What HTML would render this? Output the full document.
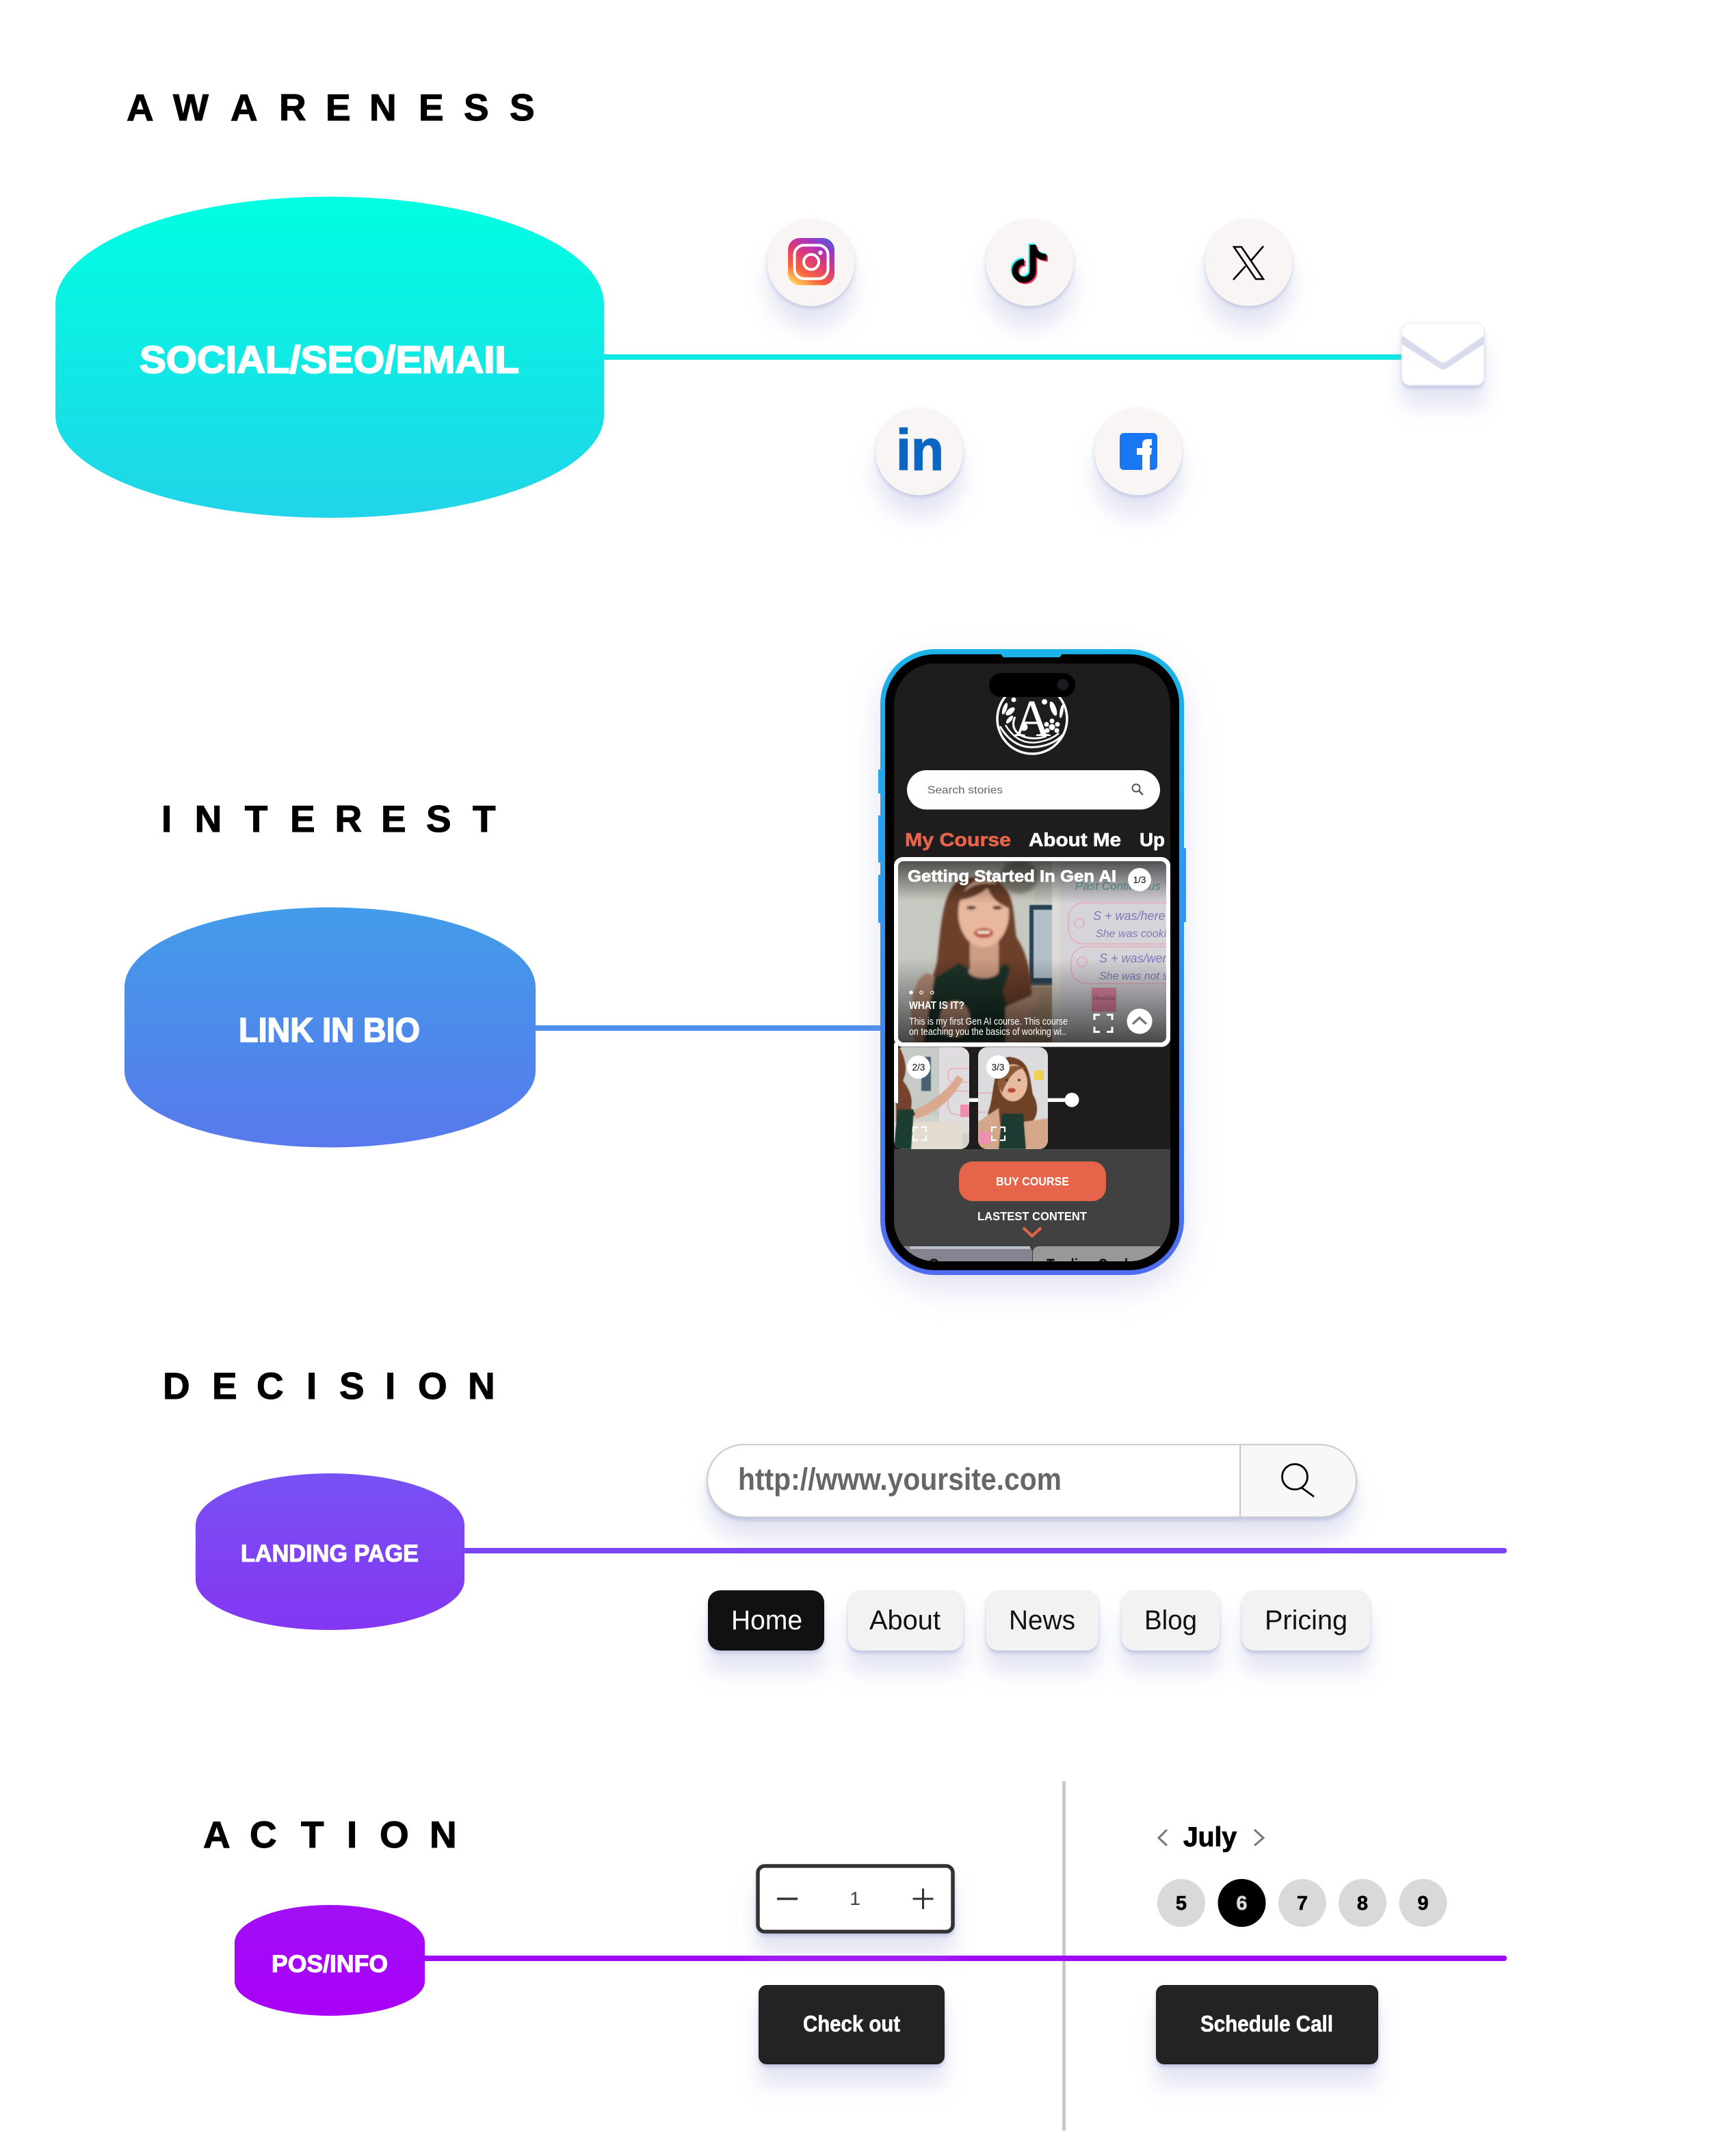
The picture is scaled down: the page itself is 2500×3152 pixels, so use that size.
<!DOCTYPE html>
<html><head><meta charset="utf-8"><title>Funnel</title>
<style>html,body{margin:0;padding:0;background:#fff}svg{display:block}
text{font-family:"Liberation Sans",sans-serif}</style></head>
<body>
<svg xmlns="http://www.w3.org/2000/svg" width="2500" height="3152" viewBox="0 0 2500 3152">
<defs>
<linearGradient id="g1" x1="0" y1="0" x2="0" y2="1"><stop offset="0" stop-color="#00ffe1"/><stop offset="1" stop-color="#21d4e9"/></linearGradient>
<linearGradient id="g2" x1="0" y1="0" x2="0" y2="1"><stop offset="0" stop-color="#439cea"/><stop offset="1" stop-color="#5879ec"/></linearGradient>
<linearGradient id="g3" x1="0" y1="0" x2="0" y2="1"><stop offset="0" stop-color="#7851f4"/><stop offset="1" stop-color="#8436f2"/></linearGradient>
<linearGradient id="g4" x1="0" y1="0" x2="0" y2="1"><stop offset="0" stop-color="#a10ff6"/><stop offset="1" stop-color="#a900f9"/></linearGradient>
<linearGradient id="frame" x1="0" y1="0" x2="0" y2="1"><stop offset="0" stop-color="#1db3e8"/><stop offset=".5" stop-color="#3391ee"/><stop offset="1" stop-color="#4f6cf0"/></linearGradient>
<linearGradient id="ig" x1="0.2" y1="1" x2="0.8" y2="0"><stop offset="0" stop-color="#fed45a"/><stop offset=".25" stop-color="#f8653d"/><stop offset=".55" stop-color="#dd3a78"/><stop offset=".8" stop-color="#a832c0"/><stop offset="1" stop-color="#5b58d6"/></linearGradient>
<linearGradient id="topov" x1="0" y1="0" x2="0" y2="1"><stop offset="0" stop-color="#000" stop-opacity=".62"/><stop offset="1" stop-color="#000" stop-opacity="0"/></linearGradient>
<linearGradient id="botov" x1="0" y1="0" x2="0" y2="1"><stop offset="0" stop-color="#000" stop-opacity="0"/><stop offset="1" stop-color="#000" stop-opacity=".66"/></linearGradient>
<filter id="sh" x="-40%" y="-30%" width="180%" height="220%" color-interpolation-filters="sRGB">
<feDropShadow dx="0" dy="3" stdDeviation="3" flood-color="#8f96c8" flood-opacity=".4"/>
<feDropShadow dx="0" dy="32" stdDeviation="15" flood-color="#a6acda" flood-opacity=".3"/>
</filter>
<filter id="shw" x="-20%" y="-30%" width="140%" height="260%" color-interpolation-filters="sRGB">
<feDropShadow dx="0" dy="4" stdDeviation="3" flood-color="#8f96c8" flood-opacity=".42"/>
<feDropShadow dx="0" dy="30" stdDeviation="14" flood-color="#a6acda" flood-opacity=".3"/>
</filter>
<filter id="shp" x="-20%" y="-10%" width="140%" height="125%" color-interpolation-filters="sRGB">
<feDropShadow dx="0" dy="20" stdDeviation="22" flood-color="#a0a6d8" flood-opacity=".32"/>
</filter>
<filter id="b05"><feGaussianBlur stdDeviation=".6"/></filter>
<filter id="b1"><feGaussianBlur stdDeviation="1.6"/></filter>
<filter id="b2"><feGaussianBlur stdDeviation="3"/></filter>
<clipPath id="screen"><rect x="1307" y="970" width="404" height="874" rx="60"/></clipPath>
<clipPath id="photo"><rect x="1313" y="1259" width="392" height="265" rx="8"/></clipPath>
<clipPath id="t2"><rect x="1307" y="1531" width="110" height="149" rx="13"/></clipPath>
<clipPath id="t3"><rect x="1430" y="1531" width="102" height="149" rx="13"/></clipPath>
<clipPath id="mailc"><rect x="2049" y="472" width="121" height="91" rx="12"/></clipPath>
</defs>

<rect width="2500" height="3152" fill="#fff"/>

<!-- Section titles -->
<g font-weight="700" font-size="55" fill="#000" stroke="#000" stroke-width="1">
<text x="185 253 337 408 476 540 612 678 745" y="176">AWARENESS</text>
<text x="236 284.6 357.7 424 489.5 557 623 691" y="1216">INTEREST</text>
<text x="238 310 375 448 496 563 611 684" y="2045">DECISION</text>
<text x="297 365 440 507 555 628" y="2701">ACTION</text>
</g>

<!-- Connector lines -->
<rect x="880" y="518" width="1170" height="8" fill="#0fe8e4"/>
<rect x="780" y="1499" width="520" height="8" fill="#4d8deb"/>
<rect x="676" y="2263" width="1527" height="8" rx="4" fill="#7c44f2"/>
<rect x="1553" y="2604" width="5" height="511" fill="#c9c9c9"/>
<rect x="618" y="2859" width="1585" height="8" rx="4" fill="#a10af7"/>

<!-- Blobs -->
<path d="M81 445 A401 157.500 0 0 1 883 445 V607 A401 150 0 0 1 81 607 Z" fill="url(#g1)"/>
<text x="204" y="545" font-size="56" font-weight="700" fill="#fff" stroke="#fff" stroke-width="2" textLength="555" lengthAdjust="spacingAndGlyphs">SOCIAL/SEO/EMAIL</text>
<path d="M182 1443 A300.500 116.500 0 0 1 783 1443 V1566 A300.500 111.500 0 0 1 182 1566 Z" fill="url(#g2)"/>
<text x="349" y="1523" font-size="50" font-weight="700" fill="#fff" stroke="#fff" stroke-width="1.600" textLength="265" lengthAdjust="spacingAndGlyphs">LINK IN BIO</text>
<path d="M286 2230 A196.500 76 0 0 1 679 2230 V2310 A196.500 73 0 0 1 286 2310 Z" fill="url(#g3)"/>
<text x="352" y="2283" font-size="35" font-weight="700" fill="#fff" stroke="#fff" stroke-width="1.100" textLength="260" lengthAdjust="spacingAndGlyphs">LANDING PAGE</text>
<path d="M343 2840 A139 55 0 0 1 621 2840 V2897 A139 50 0 0 1 343 2897 Z" fill="url(#g4)"/>
<text x="397" y="2883" font-size="35" font-weight="700" fill="#fff" stroke="#fff" stroke-width="1.100" textLength="170" lengthAdjust="spacingAndGlyphs">POS/INFO</text>

<!-- Social circles -->
<circle cx="1185.500" cy="383.500" r="64" fill="#f8f5f4" filter="url(#sh)"/>
<circle cx="1505.500" cy="383.500" r="64" fill="#f8f5f4" filter="url(#sh)"/>
<circle cx="1825.500" cy="383.500" r="64" fill="#f8f5f4" filter="url(#sh)"/>
<circle cx="1344" cy="660" r="64" fill="#f8f5f4" filter="url(#sh)"/>
<circle cx="1664" cy="660" r="64" fill="#f8f5f4" filter="url(#sh)"/>

<!-- Instagram -->
<rect x="1152" y="348" width="68" height="69" rx="17" fill="url(#ig)"/>
<rect x="1161.500" y="358.500" width="49" height="49" rx="14" fill="none" stroke="#fff" stroke-width="4"/>
<circle cx="1186" cy="383" r="11" fill="none" stroke="#fff" stroke-width="4"/>
<circle cx="1199.500" cy="369.500" r="3.200" fill="#fff"/>
<!-- TikTok -->
<g fill="none" stroke-width="9">
<g stroke="#25f4ee" transform="translate(-2 -2)"><path d="M1510 358 V396 A13 13 0 1 1 1497 383"/><path d="M1510 358 C1511 369 1519 376 1530 376"/></g>
<g stroke="#fe2c55" transform="translate(2 2)"><path d="M1510 358 V396 A13 13 0 1 1 1497 383"/><path d="M1510 358 C1511 369 1519 376 1530 376"/></g>
<g stroke="#000"><path d="M1510 358 V396 A13 13 0 1 1 1497 383"/><path d="M1510 358 C1511 369 1519 376 1530 376"/></g>
</g>
<!-- X -->
<path d="M1804 361 H1815 L1847 408 H1836 Z" fill="none" stroke="#000" stroke-width="2.600"/>
<path d="M1847 360 L1829 381 M1821 389 L1803 409" fill="none" stroke="#000" stroke-width="2.600"/>
<!-- LinkedIn -->
<text x="1310" y="687" font-size="84" font-weight="700" fill="#0a66c2" stroke="#0a66c2" stroke-width="1.500" textLength="70" lengthAdjust="spacingAndGlyphs">in</text>
<!-- Facebook -->
<rect x="1637" y="633" width="55" height="54" rx="6" fill="#1877f2"/>
<path d="M1670 687 V665 H1662 V655 H1670 V650 Q1670 642 1678 642 H1684 V651 H1681 V655 H1684 L1683 665 H1681 V687Z" fill="#fff"/>

<!-- Mail -->
<g filter="url(#shw)"><rect x="2049" y="472" width="121" height="91" rx="12" fill="#fff"/></g>
<rect x="2049.500" y="472" width="120" height="91" rx="12" fill="none" stroke="#eff0f6" stroke-width="1.500"/>
<g clip-path="url(#mailc)">
<path d="M2049 490 L2106 529 Q2110 532 2114 529 L2170 490 V503 L2114 539 Q2110 542 2106 539 L2049 503 Z" fill="#d8dbec" filter="url(#b05)"/>
</g>

<!-- Phone -->
<g filter="url(#shp)"><rect x="1287" y="949" width="444" height="915" rx="80" fill="url(#frame)"/></g>
<rect x="1284" y="1125" width="4" height="35" fill="#22a9e9"/>
<rect x="1284" y="1192" width="4" height="69" fill="#289fec"/>
<rect x="1284" y="1279" width="4" height="70" fill="#2d97ed"/>
<rect x="1730" y="1240" width="4" height="108" fill="#2c98ed"/>
<rect x="1294" y="956.500" width="430" height="900.500" rx="73" fill="#000"/>
<path d="M1463 956 H1553 L1549 961 H1467 Z" fill="#1db3e8"/>

<g clip-path="url(#screen)">
<rect x="1307" y="970" width="404" height="710" fill="#1e1c1d"/>
<rect x="1307" y="1680" width="404" height="164" fill="#414141"/>

<!-- Logo -->
<circle cx="1509" cy="1051" r="51" fill="none" stroke="#fff" stroke-width="3.500"/>
<path d="M1462 1062 Q1484 1099 1522 1091 Q1542 1087 1554 1074" fill="none" stroke="#fff" stroke-width="3"/>
<path d="M1470 1060 Q1488 1090 1518 1085 Q1536 1082 1548 1072" fill="none" stroke="#fff" stroke-width="2.500"/>
<path d="M1484 1048 Q1476 1066 1494 1076 Q1512 1083 1530 1076" fill="none" stroke="#fff" stroke-width="3"/>
<text x="1509" y="1076" font-size="76" text-anchor="middle" fill="#fff" style="font-family:'Liberation Serif',serif">A</text>
<circle cx="1497" cy="1063" r="5.500" fill="#fff"/>
<g fill="#fff"><circle cx="1538" cy="1063" r="4.500"/><circle cx="1538" cy="1054" r="3.500"/><circle cx="1546" cy="1059" r="3.500"/><circle cx="1545" cy="1068" r="3.500"/><circle cx="1531" cy="1068" r="3.500"/><circle cx="1530" cy="1059" r="3.500"/>
<circle cx="1527" cy="1026" r="4"/><circle cx="1482" cy="1023" r="3.500"/>
<ellipse cx="1540" cy="1036" rx="4" ry="11" transform="rotate(-20 1540 1036)"/>
<ellipse cx="1552" cy="1040" rx="2.500" ry="10" transform="rotate(10 1552 1040)"/>
<ellipse cx="1477" cy="1040" rx="4" ry="8" transform="rotate(50 1477 1040)"/>
<ellipse cx="1469" cy="1036" rx="3" ry="9" transform="rotate(20 1469 1036)"/>
<ellipse cx="1476" cy="1052" rx="3" ry="7" transform="rotate(40 1476 1052)"/></g>

<!-- Search -->
<rect x="1326" y="1126" width="370" height="57.500" rx="28.700" fill="#fff"/>
<text x="1356" y="1160" font-size="16" fill="#666" textLength="110" lengthAdjust="spacingAndGlyphs">Search stories</text>
<circle cx="1661" cy="1152" r="5.500" fill="none" stroke="#555" stroke-width="2"/>
<path d="M1665 1156 L1671 1162" stroke="#555" stroke-width="2.400"/>

<!-- Tabs -->
<g font-size="28" font-weight="700" stroke-width=".6">
<text x="1323" y="1237" fill="#e5644a" stroke="#e5644a" textLength="155" lengthAdjust="spacingAndGlyphs">My Course</text>
<text x="1504" y="1237" fill="#fff" stroke="#fff" textLength="135" lengthAdjust="spacingAndGlyphs">About Me</text>
<text x="1666" y="1237" fill="#fff" stroke="#fff" textLength="37" lengthAdjust="spacingAndGlyphs">Up</text>
</g>

<!-- Main card -->
<rect x="1310" y="1256" width="398" height="271.500" rx="10" fill="#fff" stroke="#fff" stroke-width="6"/>
<g clip-path="url(#photo)">
<rect x="1313" y="1259" width="240" height="265" fill="#c6c8c2"/>
<rect x="1313" y="1259" width="200" height="60" fill="#cfcfc6"/>
<ellipse cx="1490" cy="1282" rx="28" ry="24" fill="#8c8a80" filter="url(#b2)"/>
<rect x="1505" y="1323" width="36" height="118" rx="2" fill="#2c4254" filter="url(#b05)"/>
<rect x="1511" y="1330" width="30" height="100" fill="#b3bfc9" filter="url(#b05)"/>
<rect x="1490" y="1440" width="60" height="90" fill="#a78c72" filter="url(#b2)"/>
<rect x="1538" y="1259" width="13" height="265" fill="#dedcd8" filter="url(#b05)"/>
<rect x="1550" y="1259" width="155" height="265" fill="#d6d4d9"/>
<g fill="none" stroke="#e9a0b4" stroke-width="1.300">
<rect x="1562" y="1320" width="190" height="60" rx="22"/>
<rect x="1566" y="1384" width="190" height="54" rx="22"/>
<circle cx="1578" cy="1350" r="7"/><circle cx="1582" cy="1406" r="7"/>
</g>
<g fill="#7e7ab8" style="font-family:'Liberation Serif',serif" font-style="italic">
<text x="1598" y="1345" font-size="18">S + was/here + V</text>
<text x="1602" y="1370" font-size="16">She was cooking</text>
<text x="1607" y="1407" font-size="18">S + was/were + n</text>
<text x="1607" y="1432" font-size="16">She was not sleeping</text>
<text x="1572" y="1301" font-size="17" fill="#63a9a8">Past Continuous Tense</text>
</g>
<rect x="1596" y="1444" width="36" height="35" fill="#e88aa8"/>
<text x="1598" y="1462" font-size="9" fill="#7a5a70" style="font-family:'Liberation Serif',serif" font-style="italic">Deadline</text>
<g filter="url(#b1)">
<path d="M1412 1283 C1376 1290 1376 1360 1370 1405 C1364 1440 1345 1452 1335 1480 L1505 1485 C1512 1445 1506 1400 1486 1370 C1481 1340 1486 1298 1450 1283 Z" fill="#6d3f2b"/>
<ellipse cx="1356" cy="1485" rx="24" ry="62" fill="#b98f77"/>
<path d="M1366 1430 L1402 1408 Q1440 1432 1470 1408 L1498 1440 L1500 1524 L1350 1524 Z" fill="#1b352c"/>
<rect x="1418" y="1375" width="42" height="44" fill="#cf9d84"/>
<ellipse cx="1438" cy="1420" rx="22" ry="10" fill="#cf9d84"/>
<ellipse cx="1438" cy="1335" rx="37" ry="50" fill="#e8b79c"/>
<path d="M1400 1316 Q1418 1285 1460 1293 Q1478 1305 1476 1328 Q1452 1320 1444 1298 Q1425 1314 1400 1316Z" fill="#6d3f2b"/>
<ellipse cx="1420" cy="1327" rx="7" ry="2.600" fill="#4a2e25"/><ellipse cx="1458" cy="1327" rx="7" ry="2.600" fill="#4a2e25"/>
<ellipse cx="1438" cy="1364" rx="14" ry="7" fill="#b8473a"/><rect x="1429" y="1361" width="18" height="4" fill="#f1ead9"/>
<path d="M1482 1400 C1512 1420 1507 1475 1480 1495 L1466 1450 Z" fill="#6d3f2b"/>
<ellipse cx="1396" cy="1490" rx="22" ry="27" fill="#b98f77"/>
<path d="M1470 1472 L1520 1450 L1520 1462 L1500 1490 L1500 1524 L1470 1524Z" fill="#b98f77"/>
</g>
<rect x="1313" y="1259" width="392" height="62" fill="url(#topov)"/>
<rect x="1313" y="1400" width="392" height="124" fill="url(#botov)"/>
</g>
<text x="1327" y="1289" font-size="24" font-weight="700" fill="#fff" stroke="#fff" stroke-width=".7" textLength="305" lengthAdjust="spacingAndGlyphs">Getting Started In Gen AI</text>
<circle cx="1666" cy="1286" r="17" fill="#fff"/>
<text x="1666" y="1291" font-size="13.500" fill="#000" text-anchor="middle">1/3</text>
<circle cx="1332" cy="1451" r="2.800" fill="#fff"/>
<circle cx="1347" cy="1451" r="2.200" fill="none" stroke="#fff" stroke-width="1.200"/>
<circle cx="1363" cy="1451" r="2.200" fill="none" stroke="#fff" stroke-width="1.200"/>
<text x="1329" y="1475" font-size="16" font-weight="700" fill="#fff" textLength="81" lengthAdjust="spacingAndGlyphs">WHAT IS IT?</text>
<text x="1329" y="1498" font-size="15" fill="#fff" textLength="232" lengthAdjust="spacingAndGlyphs">This is my first Gen AI course. This course</text>
<text x="1329" y="1513" font-size="15" fill="#fff" textLength="230" lengthAdjust="spacingAndGlyphs">on teaching you the basics of working wi..</text>
<path d="M1600 1491 V1483.500 H1608 M1618 1483.500 H1626 V1491 M1626 1501 V1508.500 H1618 M1608 1508.500 H1600 V1501" fill="none" stroke="#fff" stroke-width="3"/>
<circle cx="1666" cy="1493" r="18.500" fill="#fff"/>
<path d="M1656 1497 L1666 1488 L1676 1497" fill="none" stroke="#777" stroke-width="3.500"/>

<!-- Slider line -->
<rect x="1400" y="1605.500" width="160" height="5.500" fill="#fff"/>
<circle cx="1567" cy="1608" r="10.500" fill="#fff"/>

<!-- Thumb 2 -->
<g clip-path="url(#t2)">
<rect x="1307" y="1531" width="110" height="149" fill="#cfd2cc"/>
<rect x="1315" y="1531" width="60" height="100" fill="#c7cbc7"/>
<rect x="1373" y="1531" width="44" height="125" fill="#dedcdf"/>
<rect x="1347" y="1545" width="14" height="50" fill="#4a6070" filter="url(#b05)"/>
<rect x="1307" y="1640" width="100" height="40" fill="#e3dccf" filter="url(#b05)"/>
<g filter="url(#b05)">
<path d="M1315 1531 Q1330 1560 1320 1580 Q1336 1600 1332 1620 L1340 1630 L1310 1640 V1531Z" fill="#74422d"/>
<path d="M1312 1622 L1336 1622 L1332 1680 L1307 1680Z" fill="#1f3c30"/>
<path d="M1338 1622 Q1375 1607 1400 1572 L1408 1578 Q1385 1622 1338 1636Z" fill="#d9a88d"/>
</g>
<g fill="none" stroke="#e9a0b4" stroke-width="1.200"><rect x="1386" y="1595" width="50" height="35" rx="14"/><rect x="1386" y="1562" width="50" height="20" rx="8"/></g>
<rect x="1404" y="1615" width="13" height="18" fill="#ee8fb0"/>
</g>
<circle cx="1343" cy="1560" r="17" fill="#fff"/>
<text x="1343" y="1565" font-size="13.500" fill="#000" text-anchor="middle">2/3</text>
<path d="M1335 1655 V1648 H1342 M1347 1648 H1354 V1655 M1354 1660 V1667 H1347 M1342 1667 H1335 V1660" fill="none" stroke="#fff" stroke-width="2.200"/>
<path d="M1307 1525 H1313 V1613 Q1307 1613 1307 1605 Z" fill="#fff"/>

<!-- Thumb 3 -->
<g clip-path="url(#t3)">
<rect x="1430" y="1531" width="102" height="149" fill="#dcdcdf"/>
<g fill="none" stroke="#e9a0b4" stroke-width="1.200"><rect x="1425" y="1598" width="30" height="28" rx="8"/></g>
<rect x="1512" y="1565" width="14" height="14" fill="#f2d04f"/>
<g filter="url(#b05)">
<path d="M1475 1545 C1450 1550 1455 1600 1445 1625 C1440 1648 1460 1652 1485 1650 C1518 1647 1522 1620 1510 1600 C1505 1570 1505 1548 1475 1545Z" fill="#6e4328"/>
<path d="M1430 1640 L1460 1620 L1465 1680 L1430 1680Z" fill="#d4a68a"/>
<path d="M1497 1640 L1532 1635 L1532 1680 L1497 1680Z" fill="#d4a68a"/>
<path d="M1465 1628 L1496 1628 L1500 1680 L1460 1680 Z" fill="#1f3a30"/>
<ellipse cx="1481" cy="1583" rx="21" ry="27" fill="#e9bb9e"/>
<path d="M1458 1585 Q1465 1548 1500 1562 Q1480 1560 1465 1598Z" fill="#8b5a34"/>
<ellipse cx="1479" cy="1594" rx="6" ry="3.500" fill="#b8473a"/>
<circle cx="1472" cy="1579" r="2" fill="#3a2a22"/><circle cx="1490" cy="1579" r="2" fill="#3a2a22"/>
</g>
<rect x="1432" y="1655" width="16" height="17" fill="#ee8fb0"/>
</g>
<circle cx="1459" cy="1560" r="17" fill="#fff"/>
<text x="1459" y="1565" font-size="13.500" fill="#000" text-anchor="middle">3/3</text>
<path d="M1450 1655 V1648 H1457 M1462 1648 H1469 V1655 M1469 1660 V1667 H1462 M1457 1667 H1450 V1660" fill="none" stroke="#fff" stroke-width="2.200"/>

<!-- Buy course -->
<rect x="1402" y="1698" width="215" height="58" rx="20" fill="#e5644a"/>
<text x="1456" y="1733" font-size="17.500" font-weight="700" fill="#fff" textLength="107" lengthAdjust="spacingAndGlyphs">BUY COURSE</text>
<text x="1429" y="1784" font-size="17.500" font-weight="700" fill="#fff" textLength="160" lengthAdjust="spacingAndGlyphs">LASTEST CONTENT</text>
<path d="M1496 1795 L1509 1807 L1522 1795" fill="none" stroke="#e5644a" stroke-width="4"/>

<!-- Bottom cards -->
<path d="M1307 1844 V1822 H1500 Q1509 1822 1509 1832 V1844 Z" fill="#85838f"/>
<rect x="1330" y="1822" width="176" height="4" fill="#b9c2c8"/>
<path d="M1510 1844 V1832 Q1510 1822 1520 1822 H1711 V1844 Z" fill="#989898"/>
<text x="1357" y="1857" font-size="24" font-weight="700" fill="#111" textLength="41" lengthAdjust="spacingAndGlyphs">Gen</text>
<text x="1530" y="1857" font-size="24" font-weight="700" fill="#111" textLength="130" lengthAdjust="spacingAndGlyphs">Trading Cards</text>
</g>
<!-- Island -->
<rect x="1446" y="984" width="126" height="35" rx="17.500" fill="#000"/>
<circle cx="1554" cy="1001" r="8.500" fill="#1b1b1f"/>

<!-- URL bar -->
<g filter="url(#shw)"><rect x="1034" y="2112" width="949" height="106" rx="53" fill="#fff" stroke="#cdcdcd" stroke-width="2"/></g>
<path d="M1813 2113 H1930 A52 52 0 0 1 1930 2217 H1813 Z" fill="#f8f8f8"/>
<path d="M1813 2113 V2217" stroke="#c8c8c8" stroke-width="2"/>
<rect x="1034" y="2112" width="949" height="106" rx="53" fill="none" stroke="#cdcdcd" stroke-width="2"/>
<text x="1079" y="2178" font-size="45" font-weight="700" fill="#666" textLength="473" lengthAdjust="spacingAndGlyphs">http://www.yoursite.com</text>
<circle cx="1893" cy="2159" r="18.500" fill="none" stroke="#000" stroke-width="2.800"/>
<path d="M1903 2175 L1921 2188" stroke="#000" stroke-width="2.800"/>

<!-- Nav buttons -->
<g filter="url(#shw)"><rect x="1035" y="2325" width="170" height="88" rx="18" fill="#111"/></g>
<g filter="url(#shw)"><rect x="1240" y="2325" width="168" height="88" rx="18" fill="#f2f2f3"/></g>
<g filter="url(#shw)"><rect x="1442" y="2325" width="164" height="88" rx="18" fill="#f2f2f3"/></g>
<g filter="url(#shw)"><rect x="1640" y="2325" width="143" height="88" rx="18" fill="#f2f2f3"/></g>
<g filter="url(#shw)"><rect x="1816" y="2325" width="187" height="88" rx="18" fill="#f2f2f3"/></g>
<g font-size="40">
<text x="1069" y="2382" fill="#fff" textLength="104" lengthAdjust="spacingAndGlyphs">Home</text>
<text x="1271" y="2382" fill="#111" textLength="104" lengthAdjust="spacingAndGlyphs">About</text>
<text x="1475" y="2382" fill="#111" textLength="97" lengthAdjust="spacingAndGlyphs">News</text>
<text x="1673" y="2382" fill="#111" textLength="77" lengthAdjust="spacingAndGlyphs">Blog</text>
<text x="1849" y="2382" fill="#111" textLength="121" lengthAdjust="spacingAndGlyphs">Pricing</text>
</g>

<!-- Stepper -->
<g filter="url(#shw)"><rect x="1108" y="2728" width="285" height="96" rx="10" fill="#fff" stroke="#333" stroke-width="5.500"/></g>
<path d="M1136 2776 H1166" stroke="#333" stroke-width="3.500"/>
<path d="M1334.500 2776 H1364.500 M1349.500 2761 V2791" stroke="#333" stroke-width="3"/>
<text x="1250" y="2785" font-size="28" fill="#444" text-anchor="middle">1</text>

<!-- Buttons -->
<g filter="url(#shw)"><rect x="1109" y="2902" width="272" height="116" rx="12" fill="#232323"/></g>
<g filter="url(#shw)"><rect x="1690" y="2902" width="325" height="116" rx="12" fill="#232323"/></g>
<text x="1174" y="2970" font-size="33" font-weight="700" fill="#fff" stroke="#fff" stroke-width=".6" textLength="142" lengthAdjust="spacingAndGlyphs">Check out</text>
<text x="1755" y="2970" font-size="33" font-weight="700" fill="#fff" stroke="#fff" stroke-width=".6" textLength="194" lengthAdjust="spacingAndGlyphs">Schedule Call</text>

<!-- Calendar -->
<text x="1730" y="2699" font-size="40" font-weight="700" fill="#000" stroke="#000" stroke-width=".9" textLength="78" lengthAdjust="spacingAndGlyphs">July</text>
<path d="M1706 2675 L1694 2687 L1706 2698" fill="none" stroke="#777" stroke-width="3"/>
<path d="M1834 2675 L1847 2687 L1834 2698" fill="none" stroke="#777" stroke-width="3"/>
<circle cx="1727" cy="2782" r="35" fill="#d9d9d9"/>
<circle cx="1815.500" cy="2782" r="35" fill="#000"/>
<circle cx="1904" cy="2782" r="35" fill="#d9d9d9"/>
<circle cx="1992" cy="2782" r="35" fill="#d9d9d9"/>
<circle cx="2080.500" cy="2782" r="35" fill="#d9d9d9"/>
<g font-size="29" font-weight="700" text-anchor="middle" stroke-width=".6">
<text x="1727" y="2792" stroke="#000">5</text>
<text x="1815.500" y="2792" fill="#d9d9d9" stroke="#d9d9d9">6</text>
<text x="1904" y="2792" stroke="#000">7</text>
<text x="1992" y="2792" stroke="#000">8</text>
<text x="2080.500" y="2792" stroke="#000">9</text>
</g>
</svg>
</body></html>
